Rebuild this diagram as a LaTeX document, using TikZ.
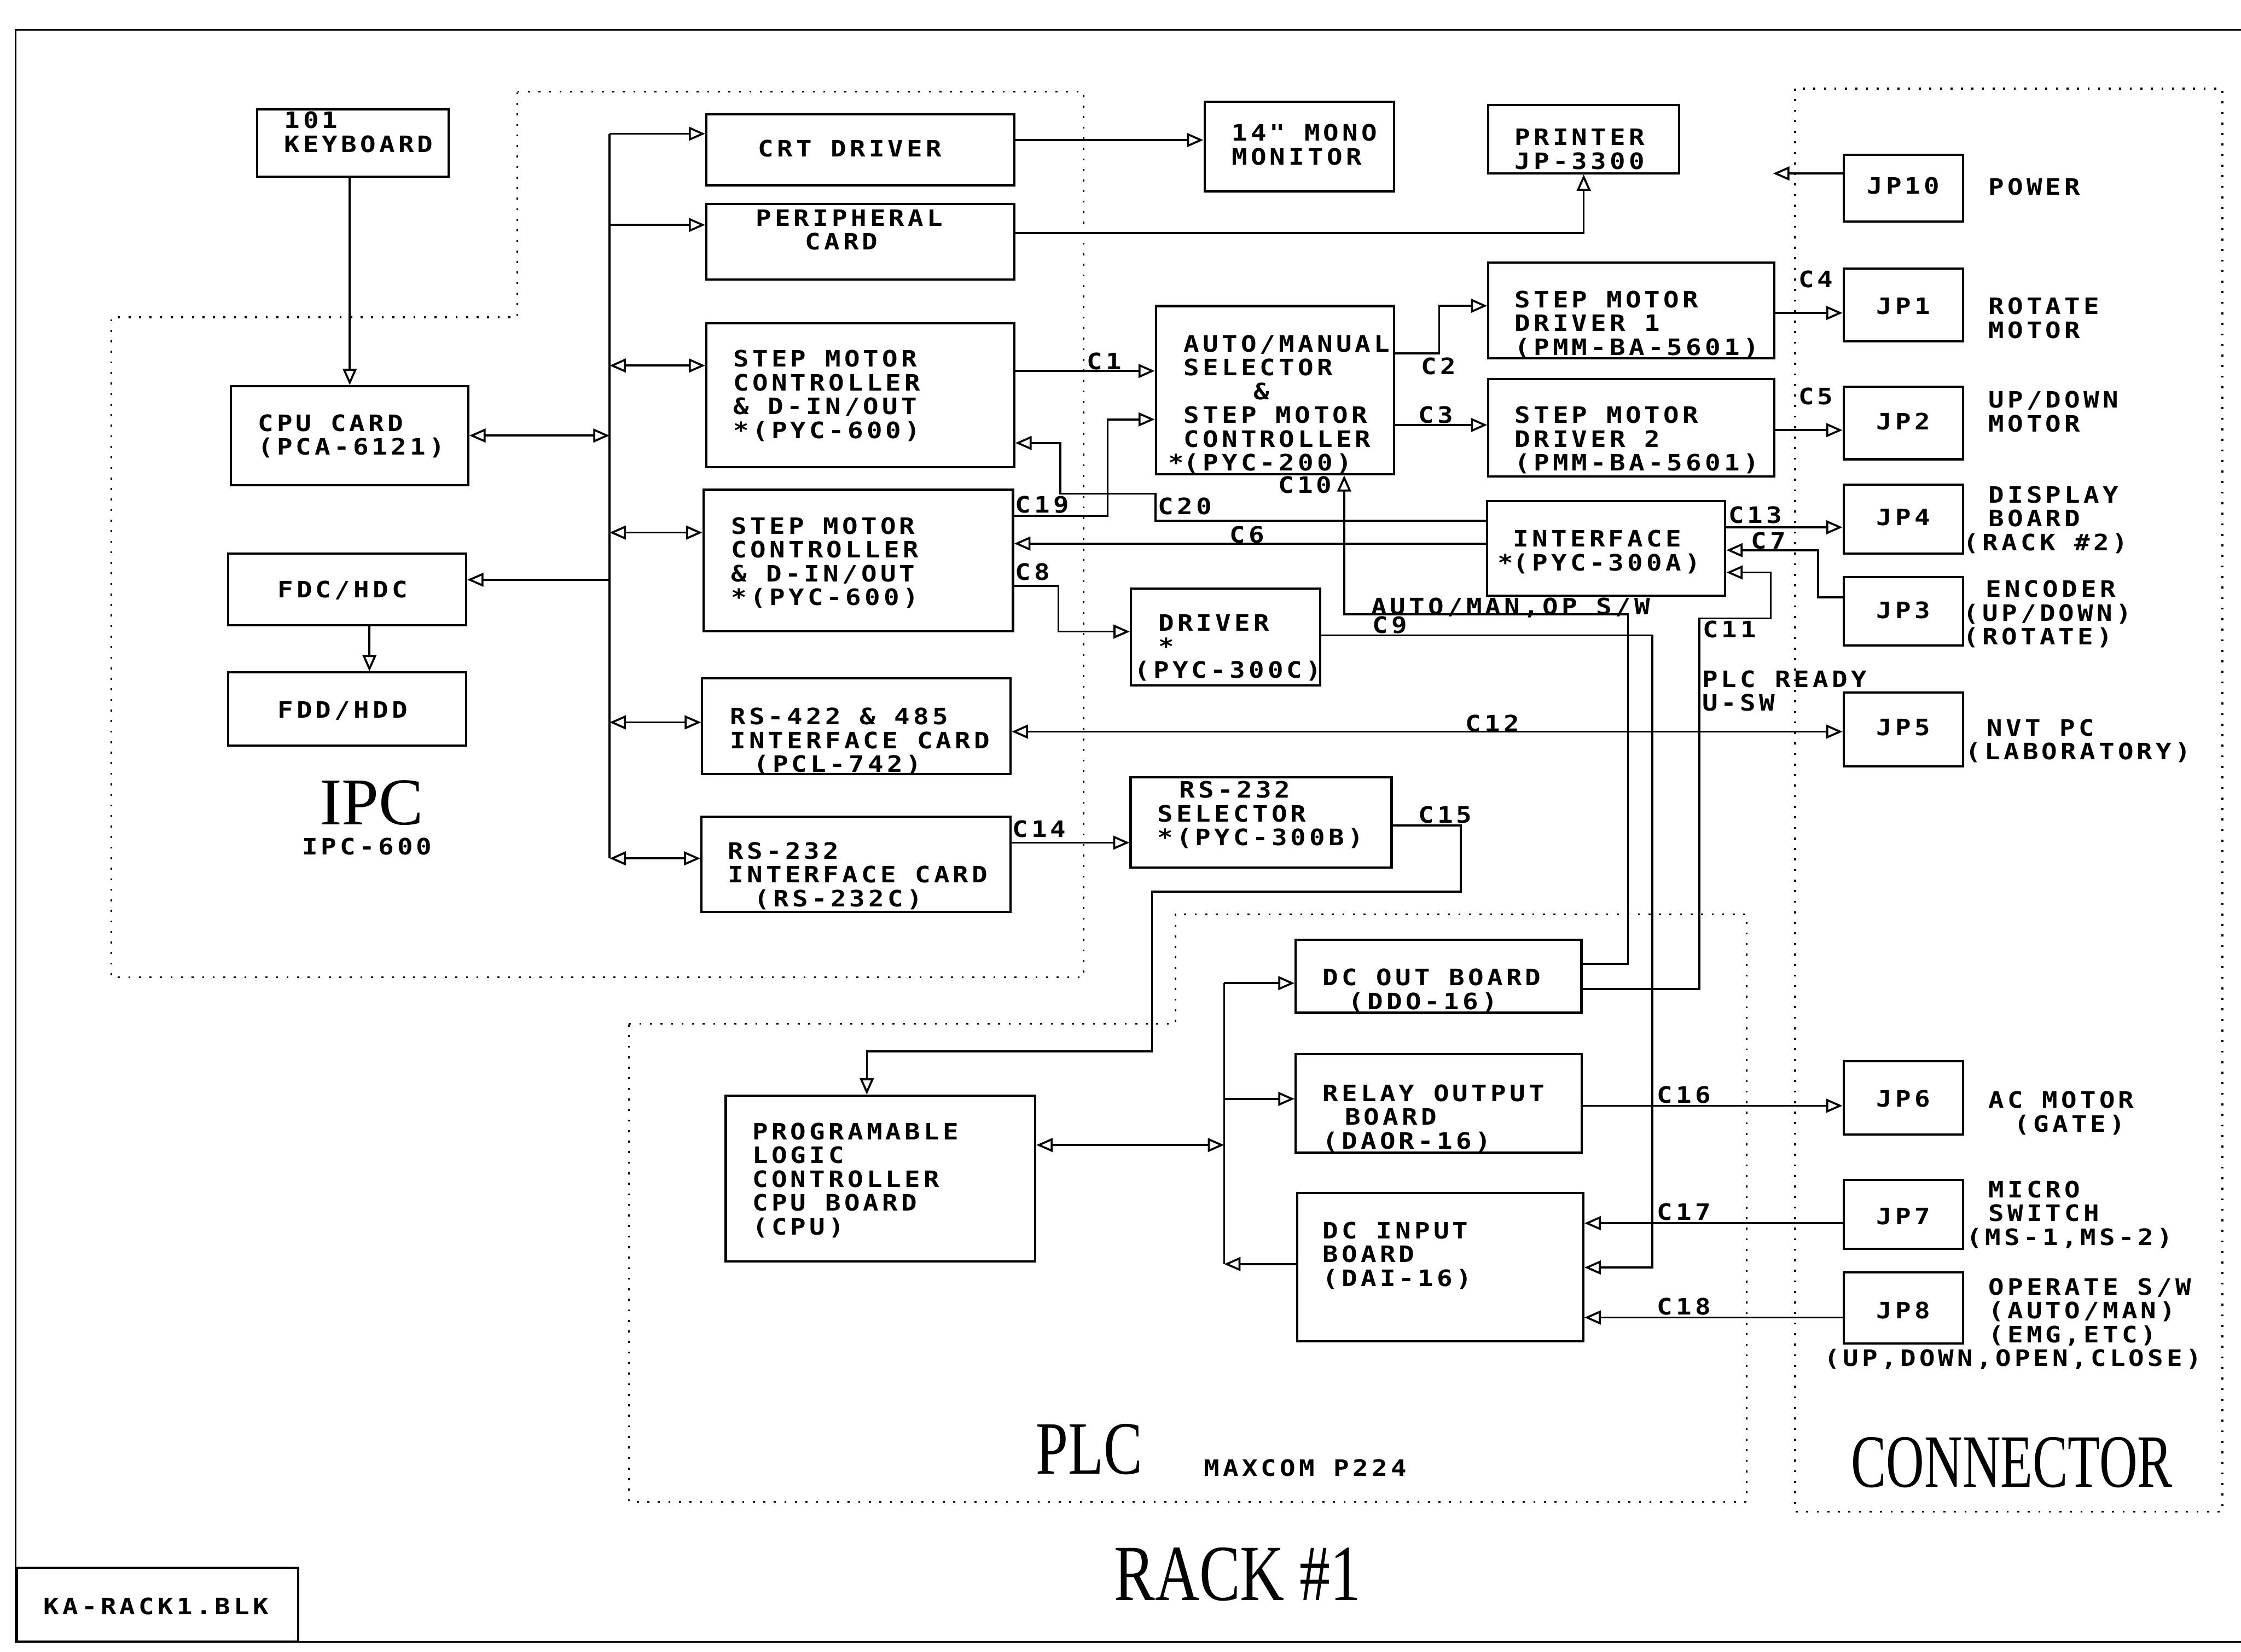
\documentclass[tikz,border=0pt]{standalone}
\usepackage{fontspec}
\usepackage{graphicx}
\usetikzlibrary{arrows.meta}

\newfontfamily\plotfnt[FakeStretch=1.15,LetterSpace=15]{DejaVu Sans Mono}
\newfontfamily\bigfnt{Liberation Serif}
\newcommand{\plotfont}{\plotfnt\bfseries\fontsize{9}{9.47}\selectfont\lineskiplimit=-20pt
    \hyphenpenalty=10000 \exhyphenpenalty=10000 }
\newcommand{\blank}{\hspace*{2.66mm}}
\newcommand{\bigtxt}[3]{\scalebox{#1}[1]{\bigfnt\fontsize{#2}{#2}\selectfont #3}}

\begin{document}
\begin{tikzpicture}[x=0.2mm, y=-0.2mm]
        % Block and wire style definitions
        \tikzset{
            blk/.style n args={4}{draw, line width=0.9pt, font=\plotfont, align=left,
                anchor=north west, inner ysep=0pt, inner xsep=#3*0.2mm,
                text width=(#1-2*#3)*0.2mm, text height=#4*0.2mm, text depth=(#2-#4)*0.2mm},
            jp/.style 2 args={blk={83.5}{#1}{0}{#2}, align=center},
            lbl/.style={font=\plotfont, inner sep=0pt, anchor=base west, text width=70mm, align=left},
            wire/.style={line width=0.8pt},
            arr/.style={wire, -{Triangle[open, length=6.5pt, width=5.5pt]}},
            dbl/.style={wire, {Triangle[open, length=6.5pt, width=5.5pt]}-{Triangle[open, length=6.5pt, width=5.5pt]}},
            zone/.style={line width=0.7pt, dash pattern=on 0.8pt off 3.4pt},
            rim/.style={line width=0.7pt}
        }
        \useasboundingbox (0,0) rectangle (1568,1156);

        % ==========================================
        % SHEET FRAME AND ZONES
        % ==========================================
        \draw[rim] (1580,21) -- (11,21) -- (11,1149) -- (1580,1149);
        \node[blk={196.7}{51.6}{18.7}{32.6}] (tblk) at (11,1096.4) {KA-RACK1.BLK};
        \draw[zone] (362,64) -- (758,64) -- (758,684) -- (78,684) -- (78,222) -- (362,222) -- cycle;
        \draw[zone] (440,716.4) -- (822.4,716.4) -- (822.4,640) -- (1222,640) -- (1222,1051) -- (440,1051) -- cycle;
        \draw[zone] (1256,62) rectangle (1555,1058);

        \node[anchor=base] (ipc) at (260,577) {\bigtxt{1}{26.6}{IPC}};
        \node[lbl] (ipcm) at (211,598) {IPC-600};
        \node[anchor=base] (plct) at (762,1031.6) {\bigtxt{0.77}{30}{PLC}};
        \node[lbl] (maxc) at (842,1033) {MAXCOM\blank P224};
        \node[anchor=base] (conn) at (1407.7,1040.5) {\bigtxt{0.70}{30}{CONNECTOR}};
        \node[anchor=base] (rack) at (866,1120) {\bigtxt{0.77}{31.7}{RACK~\#1}};

        % ==========================================
        % IPC BLOCKS
        % ==========================================
        \node[blk={134}{47.4}{19}{13.4}] (kbd) at (179,75.6) {101\\KEYBOARD};
        \node[blk={166.2}{69.1}{19}{31.5}] (cpu) at (160.6,269.5) {CPU\blank CARD\\(PCA-6121)};
        \node[blk={166.5}{50.3}{34.6}{31}] (fdc) at (158.8,386.5) {FDC/HDC};
        \node[blk={166.5}{51.2}{34.6}{32}] (fdd) at (158.8,469.8) {FDD/HDD};
        \node[blk={215.4}{49.5}{36.2}{29.7}] (crt) at (493.4,79.3) {CRT\blank DRIVER};
        \node[blk={215.4}{52.8}{34.6}{15.5}] (per) at (493.4,141.9) {PERIPHERAL\\\hspace*{6.9mm}CARD};
        \node[blk={215.4}{100.5}{19}{30.5}] (smc1) at (493.4,225.5) {STEP\blank MOTOR\\CONTROLLER\\\&\blank D-IN/OUT\\{}*(PYC-600)};
        \node[blk={216.6}{99}{19.6}{31}] (smc2) at (491.4,342) {STEP\blank MOTOR\\CONTROLLER\\\&\blank D-IN/OUT\\{}*(PYC-600)};
        \node[blk={215.8}{67}{19.5}{32.4}] (rs422) at (490.5,474) {RS-422\blank\&\blank 485\\INTERFACE\blank CARD\\\hspace*{3.3mm}(PCL-742)};
        \node[blk={216.3}{66.7}{18.6}{29.8}] (rs232) at (490,570.6) {RS-232\\INTERFACE\blank CARD\\\hspace*{3.7mm}(RS-232C)};

        % ==========================================
        % PERIPHERALS, DRIVERS AND INTERFACES
        % ==========================================
        \node[blk={132.7}{62.6}{19}{27.4}] (mon) at (842,70.4) {14"\blank MONO\\MONITOR};
        \node[blk={133.4}{47.7}{18.4}{28.2}] (prn) at (1040.6,72.8) {PRINTER\\JP-3300};
        \node[blk={166.7}{117.6}{19.5}{32.1}] (ams) at (808,213.4) {AUTO/MANUAL\\SELECTOR\\\hspace*{9.8mm}\&\\STEP\blank MOTOR\\CONTROLLER\\\leavevmode\llap{*}(PYC-200)};
        \node[blk={200.2}{67}{18.4}{31.5}] (drv1) at (1040.6,183) {STEP\blank MOTOR\\DRIVER\blank 1\\(PMM-BA-5601)};
        \node[blk={200.2}{68}{18.4}{31}] (drv2) at (1040.6,264.5) {STEP\blank MOTOR\\DRIVER\blank 2\\(PMM-BA-5601)};
        \node[blk={166.7}{66}{18.4}{32}] (itf) at (1039.6,350) {INTERFACE\\\leavevmode\llap{*}(PYC-300A)};
        \node[blk={132.5}{68}{19.2}{29.6}] (drvc) at (790.5,411) {DRIVER\\{}*\\\hspace*{-3.35mm}(PYC-300C)};
        \node[blk={182.6}{63.1}{18.7}{14.3}] (sel) at (790.3,543.3) {\hspace*{3.1mm}RS-232\\SELECTOR\\{}*(PYC-300B)};

        % ==========================================
        % PLC BLOCKS
        % ==========================================
        \node[blk={199.9}{51.2}{18.9}{32.2}] (dco) at (905.8,656.8) {DC\blank OUT\blank BOARD\\\hspace*{3.6mm}(DDO-16)};
        \node[blk={200.2}{69}{18.9}{33}] (rly) at (905.8,737) {RELAY\blank OUTPUT\\\hspace*{3.1mm}BOARD\\(DAOR-16)};
        \node[blk={200.3}{104}{18}{32}] (dci) at (906.7,834) {DC\blank INPUT\\BOARD\\(DAI-16)};
        \node[blk={216.5}{116}{18.7}{30.7}] (plc) at (507,766) {PROGRAMABLE\\LOGIC\\CONTROLLER\\CPU\blank BOARD\\(CPU)};

        % ==========================================
        % CONNECTORS
        % ==========================================
        \node[jp={46.7}{27.4}] (jp10) at (1289.2,107.6) {JP10};
        \node[jp={50.7}{31.7}] (jp1) at (1289.2,187.3) {JP1};
        \node[jp={50.9}{30.3}] (jp2) at (1289.2,269.7) {JP2};
        \node[jp={48.1}{28.6}] (jp4) at (1289.2,338.4) {JP4};
        \node[jp={48}{28.8}] (jp3) at (1289.2,403) {JP3};
        \node[jp={51.4}{30}] (jp5) at (1289.2,484) {JP5};
        \node[jp={51.3}{32.3}] (jp6) at (1289.2,741.7) {JP6};
        \node[jp={48}{31}] (jp7) at (1289.2,825) {JP7};
        \node[jp={49.7}{32.3}] (jp8) at (1289.2,889.7) {JP8};

        \node[lbl] (tpow) at (1391,136.6) {POWER};
        \node[lbl] (trot) at (1391,220) {ROTATE\\MOTOR};
        \node[lbl] (tud) at (1391,285.4) {UP/DOWN\\MOTOR};
        \node[lbl] (tdsp) at (1391,352) {DISPLAY\\BOARD\\\hspace*{-3.5mm}(RACK\blank\#2)};
        \node[lbl] (tenc) at (1389,418) {ENCODER\\\hspace*{-3.1mm}(UP/DOWN)\\\hspace*{-3.1mm}(ROTATE)};
        \node[lbl] (tnvt) at (1390,515) {NVT\blank PC\\\hspace*{-3mm}(LABORATORY)};
        \node[lbl] (tacm) at (1391,775.4) {AC\blank MOTOR\\\hspace*{3.6mm}(GATE)};
        \node[lbl] (tmic) at (1391,838) {MICRO\\SWITCH\\\hspace*{-3.1mm}(MS-1,MS-2)};
        \node[lbl] (topr) at (1391,906.3) {OPERATE\blank S/W\\(AUTO/MAN)\\(EMG,ETC)\\\hspace*{-23mm}(UP,DOWN,OPEN,CLOSE)};

        % ==========================================
        % IPC BUS
        % ==========================================
        \coordinate (bustop) at (426.5,93.6);
        \coordinate (busbot) at (426.5,600.7);
        \draw[wire] (bustop) -- (busbot);
        \draw[arr] (bustop) -- (crt.west |- bustop);
        \draw[arr] (bustop |- 0,157.4) -- (per.west |- 0,157.4);
        \draw[dbl] (bustop |- 0,255.8) -- (smc1.west |- 0,255.8);
        \draw[dbl] (bustop |- 0,372.7) -- (smc2.west |- 0,372.7);
        \draw[dbl] (bustop |- 0,505.5) -- (rs422.west |- 0,505.5);
        \draw[dbl] (busbot) -- (rs232.west |- busbot);
        \draw[dbl] (cpu.east |- 0,304.8) -- (bustop |- 0,304.8);
        \draw[arr] (bustop |- 0,405.7) -- (fdc.east |- 0,405.7);
        \draw[arr] (kbd.south -| 244.7,0) -- (cpu.north -| 244.7,0);
        \draw[arr] (fdc.south -| 258.5,0) -- (fdd.north -| 258.5,0);

        % ==========================================
        % CABLES C1 - C20
        % ==========================================
        \draw[arr] (crt.east |- 0,98) -- (mon.west |- 0,98);
        \draw[arr] (per.east |- 0,163) -| (prn.south);
        \draw[arr] (smc1.east |- 0,259.6) -- (ams.west |- 0,259.6);
        \draw[arr] (smc2.east |- 0,361) -| (775,293.5) -- (ams.west |- 0,293.5);
        \draw[arr] (itf.west |- 0,364.5) -| (808.5,345.5) -| (742,310) -- (smc1.east |- 0,310);
        \draw[arr] (itf.west |- 0,380.4) -- (smc2.east |- 0,380.4);
        \draw[arr] (smc2.east |- 0,410) -| (740.6,442) -- (drvc.west |- 0,442);
        \draw[arr] (ams.east |- 0,247.3) -| (1007,214) -- (drv1.west |- 0,214);
        \draw[arr] (ams.east |- 0,297.4) -- (drv2.west |- 0,297.4);
        \draw[arr] (drv1.east |- 0,219) -- (jp1.west |- 0,219);
        \draw[arr] (drv2.east |- 0,301) -- (jp2.west |- 0,301);
        \coordinate (pwrend) at (1240.6,121.4);
        \draw[arr] (jp10.west |- pwrend) -- (pwrend);
        \draw[arr] (itf.east |- 0,369) -- (jp4.west |- 0,369);
        \draw[arr] (jp3.west |- 0,418) -| (1272,385) -- (itf.east |- 0,385);
        \draw[arr] (dco.east |- 0,692) -| (1189,432.8) -| (1239,400.6) -- (itf.east |- 0,400.6);
        \draw[arr] (dco.east |- 0,674.4) -| (1139,430) -| (ams.south -| 940.5,0);
        \draw[arr] (drvc.east |- 0,444.6) -| (1156,887) -- (dci.east |- 0,887);
        \draw[dbl] (rs422.east |- 0,512) -- (jp5.west |- 0,512);
        \draw[arr] (rs232.east |- 0,589.7) -- (sel.west |- 0,589.7);
        \draw[arr] (sel.east |- 0,577.6) -| (1022,624) -| (806,735.7) -| (plc.north -| 606.5,0);
        \draw[arr] (rly.east |- 0,773.8) -- (jp6.west |- 0,773.8);
        \draw[arr] (jp7.west |- 0,856) -- (dci.east |- 0,856);
        \draw[arr] (jp8.west |- 0,922) -- (dci.east |- 0,922);

        \node[lbl] (lc1) at (760,258.6) {C1};
        \node[lbl] (lc2) at (994,262) {C2};
        \node[lbl] (lc3) at (992,296) {C3};
        \node[lbl] (lc4) at (1258,201) {C4};
        \node[lbl] (lc5) at (1258,283) {C5};
        \node[lbl] (lc6) at (860,380) {C6};
        \node[lbl] (lc7) at (1225,384) {C7};
        \node[lbl] (lc8) at (710,406) {C8};
        \node[lbl] (lc9) at (960,443) {C9};
        \node[lbl] (lc10) at (894,345) {C10};
        \node[lbl] (lc11) at (1191,446) {C11};
        \node[lbl] (lc12) at (1025,512) {C12};
        \node[lbl] (lc13) at (1209,366) {C13};
        \node[lbl] (lc14) at (708,586) {C14};
        \node[lbl] (lc15) at (992,576) {C15};
        \node[lbl] (lc16) at (1159,772) {C16};
        \node[lbl] (lc17) at (1159,854) {C17};
        \node[lbl] (lc18) at (1159,920) {C18};
        \node[lbl] (lc19) at (710,359) {C19};
        \node[lbl] (lc20) at (810,360) {C20};
        \node[lbl] (lsw) at (959,430) {AUTO/MAN,OP\blank S/W};
        \node[lbl] (lrdy) at (1190.6,481) {PLC\blank READY\\U-SW};

        % ==========================================
        % PLC BUS
        % ==========================================
        \coordinate (pbtop) at (856.5,688);
        \coordinate (pbbot) at (856.5,884.6);
        \draw[wire] (pbtop) -- (pbbot);
        \draw[arr] (pbtop) -- (dco.west |- pbtop);
        \draw[arr] (pbtop |- 0,769) -- (rly.west |- 0,769);
        \draw[dbl] (plc.east |- 0,801.3) -- (pbtop |- 0,801.3);
        \draw[arr] (dci.west |- pbbot) -- (pbbot);
    \end{tikzpicture}
\end{document}
